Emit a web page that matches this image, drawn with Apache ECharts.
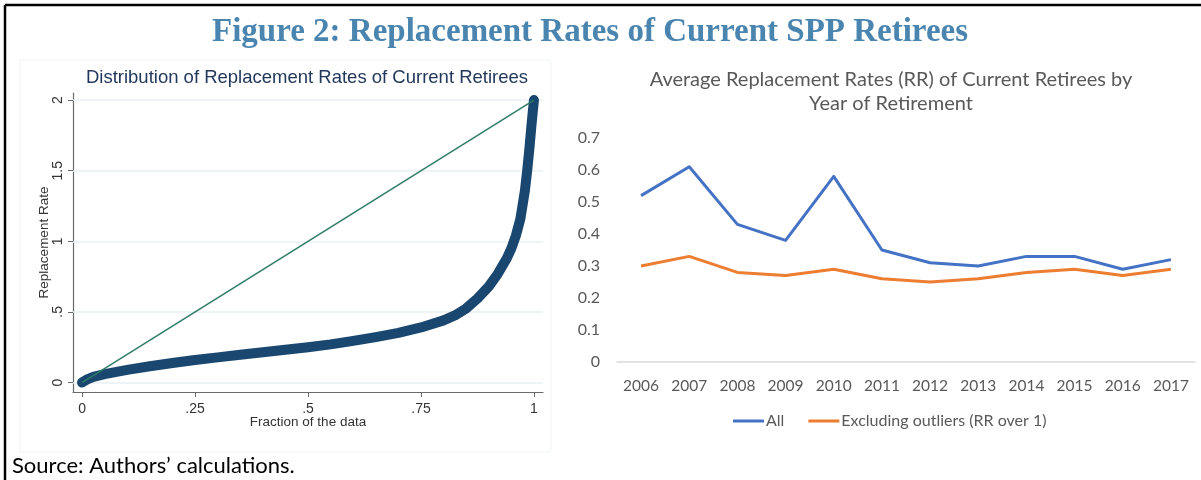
<!DOCTYPE html>
<html>
<head>
<meta charset="utf-8">
<script src="https://cdn.jsdelivr.net/npm/echarts@6/dist/echarts.min.js"></script>
<style>
  html, body { margin: 0; padding: 0; background: #fff; }
  #chart { width: 1201px; height: 480px; }
</style>
</head>
<body>
<div id="chart"></div>
<script>
// left panel: quantile plot of replacement rates
var qFrac = [0, 0.01, 0.025, 0.05, 0.1, 0.15, 0.2, 0.25, 0.3, 0.35, 0.4, 0.45, 0.5, 0.55, 0.6, 0.65, 0.7, 0.75, 0.8, 0.825, 0.85, 0.875, 0.9, 0.92, 0.94, 0.95, 0.96, 0.97, 0.98, 0.985, 0.99, 0.995, 1];
var qRate = [0, 0.02, 0.04, 0.06, 0.09, 0.115, 0.138, 0.16, 0.178, 0.197, 0.215, 0.232, 0.25, 0.27, 0.295, 0.322, 0.352, 0.39, 0.44, 0.475, 0.525, 0.595, 0.68, 0.77, 0.88, 0.95, 1.04, 1.16, 1.36, 1.5, 1.66, 1.84, 2.0];
var refX = [0, 1];
var refY = [0, 2];
var leftXTicks = [0, 0.25, 0.5, 0.75, 1];
var leftYTicks = [0, 0.5, 1, 1.5, 2];

// right panel: average RR by retirement year
var years = ['2006', '2007', '2008', '2009', '2010', '2011', '2012', '2013', '2014', '2015', '2016', '2017'];
var rrAll = [0.52, 0.61, 0.43, 0.38, 0.58, 0.35, 0.31, 0.30, 0.33, 0.33, 0.29, 0.32];
var rrExcl = [0.30, 0.33, 0.28, 0.27, 0.29, 0.26, 0.25, 0.26, 0.28, 0.29, 0.27, 0.29];

function stataNum(v) {
    return String(v).replace(/^0\./, '.');
}

var chart = echarts.init(document.getElementById('chart'));

var option = {
    animation: false,
    textStyle: { fontFamily: 'Liberation Sans' },
    graphic: [
        { type: 'line', shape: { x1: 5, y1: 5, x2: 1201, y2: 5 }, style: { stroke: '#000', lineWidth: 2.5 }, z: 10 },
        { type: 'line', shape: { x1: 5, y1: 5, x2: 5, y2: 480 }, style: { stroke: '#000', lineWidth: 2.5 }, z: 10 },
        { type: 'rect', shape: { x: 20, y: 60, width: 531, height: 392 }, style: { fill: '#fff', stroke: '#f1f3f3', lineWidth: 1 }, z: -10 },
        {
            type: 'text', x: 590, y: 32,
            style: { text: 'Figure 2: Replacement Rates of Current SPP Retirees', fill: '#4A85B0',
                font: 'bold 33px "Liberation Serif"', textAlign: 'center', textVerticalAlign: 'middle', verticalAlign: 'middle' }
        },
        {
            type: 'text', x: 307, y: 78,
            style: { text: 'Distribution of Replacement Rates of Current Retirees', fill: '#23395b',
                font: '18.5px "Liberation Sans"', textAlign: 'center', textVerticalAlign: 'middle', verticalAlign: 'middle' }
        },
        {
            type: 'text', x: 891, y: 80,
            style: { text: 'Average Replacement Rates (RR) of Current Retirees by', fill: '#595959',
                font: '20px Lato', textAlign: 'center', textVerticalAlign: 'middle', verticalAlign: 'middle' }
        },
        {
            type: 'text', x: 891, y: 104,
            style: { text: 'Year of Retirement', fill: '#595959',
                font: '20px Lato', textAlign: 'center', textVerticalAlign: 'middle', verticalAlign: 'middle' }
        },
        {
            type: 'text', x: 12, y: 466,
            style: { text: 'Source: Authors\u2019 calculations.', fill: '#000',
                font: '22px Lato', textAlign: 'left', textVerticalAlign: 'middle', verticalAlign: 'middle' }
        }
    ],
    legend: {
        data: ['All', 'Excluding outliers (RR over 1)'],
        left: 733,
        top: 413,
        padding: 0,
        icon: 'rect',
        itemWidth: 31,
        itemHeight: 3,
        itemGap: 24,
        textStyle: { fontFamily: 'Lato', fontSize: 16, color: '#595959', padding: [0, 0, 0, -3] }
    },
    grid: [
        { left: 73, top: 93, width: 470, height: 299 },
        { left: 617, top: 138, width: 578, height: 224 }
    ],
    xAxis: [
        {
            type: 'value', gridIndex: 0, min: -0.02, max: 1.02,
            name: 'Fraction of the data', nameLocation: 'middle', nameGap: 23, nameMoveOverlap: false,
            nameTextStyle: { fontSize: 13.5, color: '#333' },
            axisLine: { show: true, onZero: false, lineStyle: { color: '#6b6b6b', width: 1.2 } },
            axisTick: { show: true, length: 5, customValues: leftXTicks, lineStyle: { color: '#6b6b6b' } },
            axisLabel: { customValues: leftXTicks, formatter: stataNum, fontSize: 14, color: '#333', margin: 10 },
            splitLine: { show: false }
        },
        {
            type: 'category', gridIndex: 1, data: years, boundaryGap: true,
            axisLine: { show: true, lineStyle: { color: '#d9d9d9', width: 1.5 } },
            axisTick: { show: false },
            axisLabel: { interval: 0, fontFamily: 'Lato', fontSize: 15.5, color: '#595959', margin: 16 }
        }
    ],
    yAxis: [
        {
            type: 'value', gridIndex: 0, min: -0.067, max: 2.05,
            name: 'Replacement Rate', nameLocation: 'middle', nameGap: 22, nameRotate: 90, nameMoveOverlap: false,
            nameTextStyle: { fontSize: 13.5, color: '#333' },
            axisLine: { show: true, onZero: false, lineStyle: { color: '#6b6b6b', width: 1.2 } },
            axisTick: { show: true, length: 5, customValues: leftYTicks, lineStyle: { color: '#6b6b6b' } },
            axisLabel: { customValues: leftYTicks, formatter: stataNum, rotate: 90, fontSize: 14, color: '#333', margin: 8 },
            splitLine: { show: false }
        },
        {
            type: 'value', gridIndex: 1, min: 0, max: 0.7, interval: 0.1,
            axisLine: { show: false },
            axisTick: { show: false },
            axisLabel: { fontFamily: 'Lato', fontSize: 16, color: '#595959', margin: 17,
                formatter: function (v) { return v === 0 ? '0' : v.toFixed(1); } },
            splitLine: { show: false }
        }
    ],
    series: [
        {
            // horizontal grid lines of the Stata panel
            type: 'line', xAxisIndex: 0, yAxisIndex: 0, data: [], silent: true, z: 1,
            markLine: {
                z: 1, silent: true, symbol: ['none', 'none'], label: { show: false },
                lineStyle: { color: '#e9f1f2', width: 1.5, type: 'solid' },
                data: leftYTicks.map(function (v) { return { yAxis: v }; })
            }
        },
        {
            name: 'Quantiles', type: 'line', xAxisIndex: 0, yAxisIndex: 0, z: 3,
            data: qFrac.map(function (f, i) { return [f, qRate[i]]; }),
            showSymbol: false, smooth: false,
            lineStyle: { color: '#1a476f', width: 10, cap: 'round', join: 'round' }
        },
        {
            name: 'Reference', type: 'line', xAxisIndex: 0, yAxisIndex: 0, z: 4,
            data: refX.map(function (x, i) { return [x, refY[i]]; }),
            showSymbol: false,
            lineStyle: { color: '#2e7b68', width: 1.5 }
        },
        {
            name: 'All', type: 'line', xAxisIndex: 1, yAxisIndex: 1, data: rrAll,
            showSymbol: false, color: '#4472C4',
            lineStyle: { color: '#4472C4', width: 3, join: 'round' }
        },
        {
            name: 'Excluding outliers (RR over 1)', type: 'line', xAxisIndex: 1, yAxisIndex: 1, data: rrExcl,
            showSymbol: false, color: '#ED7D31',
            lineStyle: { color: '#ED7D31', width: 3, join: 'round' }
        }
    ]
};

chart.setOption(option);
</script>
</body>
</html>
